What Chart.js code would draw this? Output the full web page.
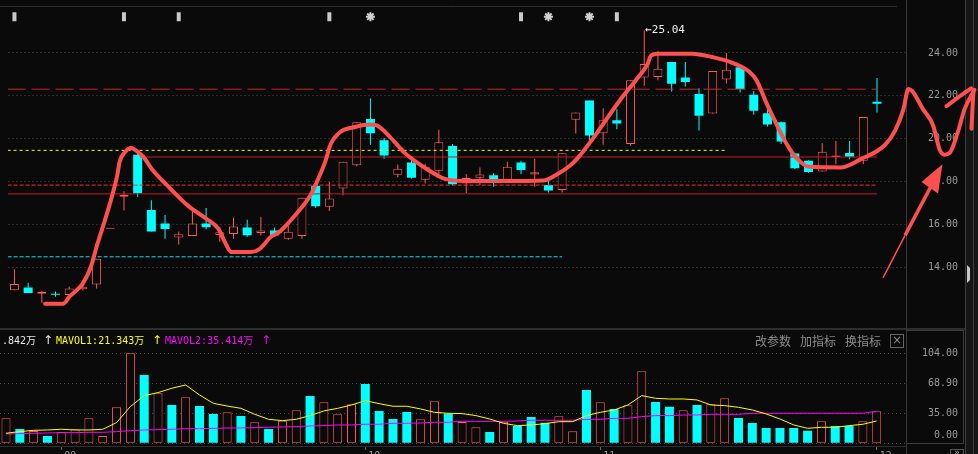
<!DOCTYPE html>
<html>
<head>
<meta charset="utf-8">
<script src="https://cdn.jsdelivr.net/npm/chart.js@4.4.0/dist/chart.umd.min.js"></script>
<style>
  body { margin: 0; background: #0a0a0a; }
  #wrap { position: relative; width: 978px; height: 454px; overflow: hidden; }
  canvas { position: absolute; left: 0; }
</style>
</head>
<body>
<div id="wrap">
  <canvas id="kline" width="978" height="329" style="top:0"></canvas>
  <canvas id="vol" width="978" height="125" style="top:329px"></canvas>
</div>
<script>
// daily candles, index 0..63
var openP  = [12.94,13.07,12.78,12.75,12.72,12.99,13.21,15.80,17.30,19.25,16.68,16.05,15.40,15.47,16.05,15.52,
              15.56,15.86,15.61,15.73,15.34,15.47,17.81,16.83,17.68,18.77,20.92,19.93,18.32,18.89,18.09,18.51,
              19.66,17.91,18.18,18.30,17.97,18.89,18.33,17.84,17.61,20.89,21.78,20.26,20.86,19.76,22.85,22.88,
              23.58,22.86,22.09,21.18,22.76,23.33,22.05,21.19,20.77,19.31,18.97,18.47,19.15,19.34,18.97,21.72];
var closeP = [13.23,12.81,12.87,12.73,13.02,13.10,14.41,15.82,17.39,17.46,15.68,15.79,15.55,16.05,15.88,15.64,
              15.91,15.50,15.73,15.50,15.67,17.25,16.86,17.21,18.93,20.77,20.26,19.22,18.60,18.18,18.70,19.84,
              17.88,18.17,18.33,17.99,18.70,18.54,18.44,17.59,19.33,21.22,20.15,20.86,20.71,22.73,23.48,23.26,
              22.56,22.65,21.07,23.16,23.21,22.32,21.30,20.66,19.87,18.63,18.45,19.39,19.22,19.16,21.01,21.63];
var highP  = [13.92,13.29,12.90,12.88,13.11,13.28,14.41,15.82,17.55,19.40,17.13,16.45,15.68,16.71,16.77,15.88,
              16.32,16.23,16.36,15.86,15.95,17.25,18.00,17.99,18.93,20.77,21.87,20.05,18.80,19.01,18.84,20.42,
              19.76,18.36,18.66,18.39,18.93,18.97,19.07,18.03,19.33,21.22,21.78,21.42,21.37,22.73,25.04,24.08,
              23.58,23.58,22.35,23.16,24.00,23.44,22.23,21.58,20.80,19.35,19.00,19.79,19.90,19.90,21.01,22.83];
var lowP   = [12.94,12.81,12.36,12.64,12.72,12.94,13.02,15.80,16.66,17.28,15.68,15.34,15.07,15.47,15.77,15.20,
              15.34,15.43,15.49,15.50,15.28,15.34,16.78,16.63,17.37,18.72,19.72,19.07,18.21,18.15,17.91,18.36,
              17.85,17.46,17.84,17.76,17.97,18.36,17.76,17.50,17.50,20.24,19.90,19.72,20.44,19.67,22.47,22.73,
              22.20,22.43,20.39,21.18,22.58,22.15,21.12,20.57,19.76,18.59,18.41,18.47,18.81,19.04,18.81,21.22];
// volume (万)
var volume = [28.9,16.5,14.2,8.4,13.1,16.2,28.9,8.4,41.6,104.0,78.9,57.8,44.3,53.2,43.1,33.9,
              35.8,31.5,24.3,16.5,26.1,38.1,54.7,47.4,33.5,45.1,68.5,37.3,28.1,36.2,27.7,48.5,
              34.2,24.6,18.5,13.1,25.0,20.0,30.4,23.8,31.2,13.9,61.6,47.4,39.6,43.9,83.2,47.7,
              42.3,38.1,44.3,45.1,52.0,29.2,23.5,17.7,17.7,17.7,14.6,25.4,20.0,20.0,25.4,37.0];
var mavol1 = [11.6,13.5,15.0,15.4,16.2,15.4,15.4,16.2,23.9,42.4,55.1,58.6,63.6,67.4,55.9,46.2,
              43.1,40.4,33.5,27.7,26.2,27.7,32.0,37.4,40.4,44.3,49.3,45.8,42.8,42.8,39.7,35.8,
              34.7,34.3,32.0,28.1,23.1,20.4,21.2,22.7,25.0,25.0,32.0,35.8,38.5,44.3,55.1,52.0,
              51.2,51.2,50.1,44.3,43.5,41.6,38.5,33.9,28.1,21.2,17.3,18.5,18.5,20.4,22.0,25.8];
var mavol2 = [10.8,11.2,11.6,11.9,12.3,12.3,12.7,12.7,13.5,14.6,15.4,15.8,16.2,16.9,16.9,17.3,
              17.7,17.7,18.1,18.5,18.9,19.3,20.0,20.4,21.2,21.2,22.0,22.0,23.1,23.1,23.5,24.3,
              24.3,25.4,25.4,25.4,25.4,25.8,26.6,26.6,26.6,26.6,27.7,27.7,28.9,28.9,30.8,32.0,
              32.0,32.7,32.7,33.5,33.5,33.5,34.7,34.7,34.7,34.7,34.7,34.7,34.7,34.7,34.7,37.0];

var priceTicks = [14, 16, 18, 20, 22, 24];
var volTicks = [0, 35, 68.9, 104];
var monthStart = [4, 26, 43, 63];
var monthLabels = ['09', '10', '11', '12'];

// horizontal reference lines: level, first and last candle index
var refLevel = [22.31, 19.46, 19.15, 17.84, 17.43, 14.50];
var refFrom  = [-0.5, -0.5, 9.2, -0.5, -0.5, -0.5];
var refTo    = [63.0, 51.9, 63.0, 63.0, 63.0, 40.0];

// signal marks in the top strip
var flatMarks = [0, 8, 12, 23, 37, 44];
var starMarks = [26, 39, 42];

// hand drawn red strokes, [candle index, price]
var strokeMain = [[2.24,12.31],[3.55,12.31],[4.03,12.65],[4.99,13.25],[5.57,14.01],[6.08,15.14],[6.56,16.10],
  [7.16,17.40],[7.53,18.36],[7.67,18.89],[8.13,19.42],[8.49,19.57],[9.10,19.34],[9.46,19.12],[10.06,18.57],
  [11.14,17.84],[12.71,16.86],[14.04,16.26],[14.89,15.81],[15.36,15.20],[15.85,14.72],[17.29,14.72],[17.89,14.86],
  [18.74,15.43],[19.34,15.65],[20.67,16.56],[21.64,17.39],[22.24,18.21],[22.72,18.97],[23.08,19.72],[23.81,20.32],
  [24.89,20.55],[25.98,20.66],[26.46,20.62],[27.42,20.09],[28.51,19.34],[29.23,18.97],[30.32,18.51],[31.40,18.14],
  [32.85,18.03],[35.74,18.03],[38.64,18.06],[39.49,18.29],[40.57,18.74],[41.17,19.12],[42.26,20.02],[43.34,21.00],
  [44.43,21.97],[45.39,22.73],[46.24,23.48],[46.48,23.86],[46.96,23.96],[49.49,23.96],[50.94,23.81],[52.39,23.55],
  [53.71,23.10],[54.20,22.73],[54.92,21.67],[55.64,20.70],[56.37,19.79],[57.09,19.12],[58.05,18.69],[60.35,18.66],
  [61.79,19.04],[63.60,19.72],[64.33,20.39],[64.93,21.37],[65.29,22.32],[65.56,22.23],[66.37,21.37],[67.10,20.62],
  [67.58,19.49],[67.94,19.26],[68.31,19.34],[68.91,20.32],[69.39,21.37],[70.12,22.28]];
var strokeHook = [[68.07,21.52],[68.89,21.91],[69.88,22.35]];
var strokeTick = [[70.04,22.18],[69.90,20.47]];
var arrowTail  = [[63.44,13.52],[65.05,15.50]];
var arrowNeck  = [[65.05,15.50],[67.00,17.85]];
var arrowHead  = [[66.67,18.00],[67.43,18.41],[67.27,17.73],[66.67,18.00],[67.43,18.41]];

var volHeader = ['.842万', 'MAVOL1:21.343万', 'MAVOL2:35.414万'];

var BG = '#0a0a0a', RED = '#ff5a5a', CYAN = '#00ffff', PEN = '#ff5050', GRID = '#4a4a4a', AXIS = '#9a9a9a';
var MONO = '"DejaVu Sans Mono", "Noto Sans CJK SC", monospace';
var X_MIN = -0.434, X_MAX = 65.17;
var markLevel = 25.69;

var idx = openP.map(function (_, i) { return i; });
var isUp = function (i) { return closeP[i] > openP[i]; };
var volUp = function (i) { return i === 0 || closeP[i] >= closeP[i - 1]; };
var pts = function (arr) { return arr.map(function (p) { return {x: p[0], y: p[1]}; }); };
var peak = highP.indexOf(Math.max.apply(null, highP));

function xAxis(extra) {
  var o = {
    type: 'linear', bounds: 'data', offset: false,
    afterDataLimits: function (s) { s.min = X_MIN; s.max = X_MAX; }
  };
  for (var k in extra) o[k] = extra[k];
  return o;
}

function vline(c, x, y0, y1, col) { c.strokeStyle = col; c.beginPath(); c.moveTo(x, y0); c.lineTo(x, y1); c.stroke(); }
function hline(c, y, x0, x1, col) { c.strokeStyle = col; c.beginPath(); c.moveTo(x0, y); c.lineTo(x1, y); c.stroke(); }

var pricePanel = {
  id: 'pricePanel',
  beforeDraw: function (chart) {
    var c = chart.ctx;
    c.save();
    c.fillStyle = BG; c.fillRect(0, 0, chart.width, chart.height);
    c.lineWidth = 1;
    hline(c, 6.5, 0, 897, '#2e2e2e');
    hline(c, 328.5, 0, 978, '#2e2e2e');
    vline(c, 906.5, 0, 329, '#3a3a3a');
    c.fillStyle = '#161616'; c.fillRect(966, 0, 12, 329);
    vline(c, 965.5, 0, 329, '#3c3c3c');
    vline(c, 973.5, 0, 329, '#3c3c3c');
    c.fillStyle = '#c8c8c8';
    c.beginPath(); c.moveTo(967, 265); c.lineTo(970, 268); c.lineTo(970, 280); c.lineTo(967, 283); c.closePath(); c.fill();
    c.restore();
  },
  afterDatasetsDraw: function (chart) {
    var c = chart.ctx;
    var x = chart.scales.x.getPixelForValue(peak), y = chart.scales.y.getPixelForValue(highP[peak]);
    c.save();
    c.fillStyle = '#f0f0f0';
    c.font = '11px ' + MONO;
    c.textBaseline = 'middle';
    c.fillText('\u2190' + highP[peak].toFixed(2), x + 1, y);
    c.restore();
  }
};

var volPanel = {
  id: 'volPanel',
  beforeDraw: function (chart) {
    var c = chart.ctx;
    c.save();
    c.fillStyle = BG; c.fillRect(0, 0, chart.width, chart.height);
    c.lineWidth = 1;
    hline(c, 0.5, 0, 978, '#2e2e2e');
    vline(c, 906.5, 0, 125, '#3a3a3a');
    vline(c, 963.5, 1, 115, '#3a3a3a');
    hline(c, 1.5, 906, 964, '#3a3a3a');
    hline(c, 114.5, 906, 964, '#3a3a3a');
    c.fillStyle = '#161616'; c.fillRect(966, 0, 12, 125);
    vline(c, 965.5, 0, 125, '#3c3c3c');
    vline(c, 973.5, 0, 125, '#3c3c3c');
    c.strokeStyle = '#555'; c.strokeRect(950.5, 120.5, 13, 8);
    c.fillStyle = '#aaa'; c.font = '9px ' + MONO; c.textAlign = 'center'; c.textBaseline = 'top';
    c.fillText('\u00bb', 957, 119);
    c.restore();
  },
  afterDraw: function (chart) {
    var c = chart.ctx;
    c.save();
    c.textBaseline = 'middle';
    c.font = '10px ' + MONO;
    var y = 12;
    c.fillStyle = '#e8e8e8'; c.fillText(volHeader[0], 2, y);
    c.fillStyle = '#ffff00'; c.fillText(volHeader[1], 56, y);
    c.fillStyle = '#ff00ff'; c.fillText(volHeader[2], 165, y);
    c.font = '12px "DejaVu Sans"';
    c.fillStyle = '#e8e8e8'; c.fillText('\u2191', 43, y);
    c.fillStyle = '#ffff00'; c.fillText('\u2191', 152, y);
    c.fillStyle = '#ff00ff'; c.fillText('\u2191', 261, y);
    c.font = '12px "Noto Sans CJK SC"';
    c.fillStyle = '#8c8c8c';
    c.fillText('改参数', 755, y);
    c.fillText('加指标', 800, y);
    c.fillText('换指标', 845, y);
    c.strokeStyle = '#666'; c.lineWidth = 1;
    c.strokeRect(890.5, 5.5, 13, 13);
    c.textAlign = 'center'; c.font = '12px "DejaVu Sans"';
    c.fillText('\u00d7', 897, y);
    c.restore();
  }
};

var refStyle = [
  {color: '#c82828', dash: [18, 6]},
  {color: '#ffff00', dash: [3, 3]},
  {color: '#c01e1e', dash: []},
  {color: '#ff2a2a', dash: [4, 2]},
  {color: '#c01e1e', dash: []},
  {color: '#00e5ff', dash: [4, 2]}
];

var refSets = refLevel.map(function (lv, k) {
  return {
    type: 'line', data: [{x: refFrom[k], y: lv}, {x: refTo[k], y: lv}],
    borderColor: refStyle[k].color, borderDash: refStyle[k].dash, borderWidth: 1,
    pointRadius: 0, order: 1
  };
});

function penLine(arr, width, smooth) {
  return {
    type: 'line', data: pts(arr), borderColor: PEN, borderWidth: width,
    pointRadius: 0, cubicInterpolationMode: smooth ? 'monotone' : 'default', tension: 0, clip: false,
    borderCapStyle: smooth ? 'round' : 'butt', borderJoinStyle: smooth ? 'round' : 'miter', order: 0
  };
}

new Chart(document.getElementById('kline'), {
  type: 'bar',
  data: {
    datasets: [
      {
        type: 'bar', order: 3, grouped: false,
        data: idx.map(function (i) { return {x: i, y: [lowP[i], highP[i]]}; }),
        backgroundColor: idx.map(function (i) { return isUp(i) ? RED : CYAN; }),
        barPercentage: 1, categoryPercentage: 1, maxBarThickness: 1, inflateAmount: 0
      },
      {
        type: 'bar', order: 2, grouped: false,
        data: idx.map(function (i) { return {x: i, y: [openP[i], closeP[i]]}; }),
        backgroundColor: idx.map(function (i) { return isUp(i) ? BG : CYAN; }),
        borderColor: RED,
        borderWidth: idx.map(function (i) { return isUp(i) ? 1 : 0; }),
        borderSkipped: false, minBarLength: 1,
        barPercentage: 1, categoryPercentage: 1, maxBarThickness: 9, inflateAmount: 0
      }
    ].concat(refSets).concat([
      {
        type: 'line', showLine: false, order: 0,
        data: flatMarks.map(function (i) { return {x: i, y: markLevel}; }),
        pointStyle: 'line', rotation: 90, pointRadius: 4.5, pointBorderWidth: 4,
        pointBorderColor: '#c8c8c8', pointBackgroundColor: '#c8c8c8'
      },
      {
        type: 'line', showLine: false, order: 0,
        data: starMarks.map(function (i) { return {x: i, y: markLevel}; }),
        pointStyle: 'star', pointRadius: 4.5, pointBorderWidth: 2,
        pointBorderColor: '#d0d0d0', pointBackgroundColor: '#d0d0d0'
      },
      penLine(strokeMain, 4, true),
      penLine(strokeHook, 4, true),
      penLine(strokeTick, 4, true),
      penLine(arrowTail, 1.5, false),
      penLine(arrowNeck, 3.5, false),
      penLine(arrowHead, 7, false)
    ])
  },
  options: {
    responsive: false, animation: false, events: [],
    layout: {padding: {left: 0, right: 20, top: 6, bottom: 1}},
    plugins: {legend: {display: false}, tooltip: {enabled: false}},
    scales: {
      x: xAxis({display: false}),
      y: {
        type: 'linear', position: 'right', min: 11.53, max: 26.07, stacked: false,
        afterBuildTicks: function (s) { s.ticks = priceTicks.map(function (v) { return {value: v}; }); },
        afterFit: function (s) { s.width = 51.3; s.paddingTop = 0; s.paddingBottom = 0; },
        grid: {color: GRID, drawTicks: false},
        border: {display: false, dash: [1, 3]},
        ticks: {
          crossAlign: 'far', padding: 21, color: AXIS, autoSkip: false,
          font: {family: MONO, size: 10},
          callback: function (v) { return v.toFixed(2); }
        }
      }
    }
  },
  plugins: [pricePanel]
});

new Chart(document.getElementById('vol'), {
  type: 'bar',
  data: {
    datasets: [
      {
        type: 'bar', order: 2, grouped: false,
        data: idx.map(function (i) { return {x: i, y: [0, volume[i]]}; }),
        backgroundColor: idx.map(function (i) { return volUp(i) ? BG : CYAN; }),
        borderColor: RED,
        borderWidth: idx.map(function (i) { return volUp(i) ? 1 : 0; }),
        borderSkipped: false,
        barPercentage: 1, categoryPercentage: 1, maxBarThickness: 9, inflateAmount: 0
      },
      {
        type: 'line', order: 1, data: idx.map(function (i) { return {x: i, y: mavol2[i]}; }),
        borderColor: '#ff00ff', borderWidth: 1, pointRadius: 0, tension: 0
      },
      {
        type: 'line', order: 0, data: idx.map(function (i) { return {x: i, y: mavol1[i]}; }),
        borderColor: '#ffff00', borderWidth: 1, pointRadius: 0, tension: 0
      }
    ]
  },
  options: {
    responsive: false, animation: false, events: [],
    layout: {padding: {left: 0, right: 20, top: 1, bottom: 0}},
    plugins: {legend: {display: false}, tooltip: {enabled: false}},
    scales: {
      x: xAxis({
        position: 'bottom',
        afterBuildTicks: function (s) { s.ticks = monthStart.map(function (v) { return {value: v}; }); },
        afterFit: function (s) { s.height = 8; s.paddingLeft = 0; s.paddingRight = 0; },
        grid: {drawOnChartArea: false, drawTicks: true, tickLength: 4, color: '#666', offset: false},
        border: {display: true, color: '#2e2e2e'},
        ticks: {
          align: 'start', labelOffset: 3, padding: 0, autoSkip: false, maxRotation: 0,
          color: AXIS, font: {family: MONO, size: 10},
          callback: function (v) { return monthLabels[monthStart.indexOf(v)]; }
        }
      }),
      y: {
        type: 'linear', position: 'right', min: -3.12, max: 130.92, stacked: false,
        afterBuildTicks: function (s) { s.ticks = volTicks.map(function (v) { return {value: v}; }); },
        afterFit: function (s) { s.width = 51.3; s.paddingTop = 0; s.paddingBottom = 0; },
        grid: {color: GRID, drawTicks: false},
        border: {display: false, dash: [1, 3]},
        ticks: {
          crossAlign: 'far', padding: 15, color: AXIS, autoSkip: false,
          font: function (ctx) { return {family: MONO, size: 10, lineHeight: ctx.tick && ctx.tick.value === 0 ? 1.5 : 1.2}; },
          callback: function (v) { return v === 0 ? ['0.00', ''] : v.toFixed(2); }
        }
      }
    }
  },
  plugins: [volPanel]
});
</script>
</body>
</html>
